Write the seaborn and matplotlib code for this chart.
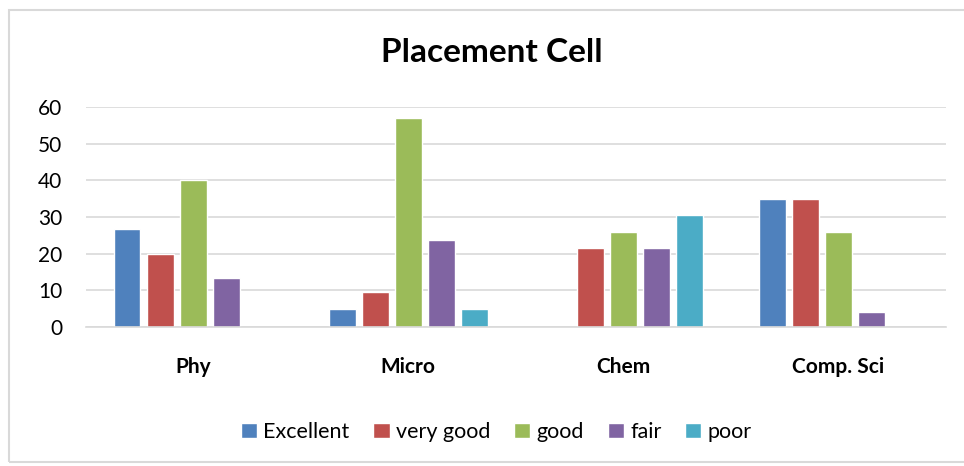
import numpy as np
import pandas as pd
import seaborn as sns
import matplotlib.pyplot as plt
from matplotlib.patches import Rectangle

# 데이터
subjects = ['Phy', 'Micro', 'Chem', 'Comp. Sci']
ratings = ['Excellent', 'very good', 'good', 'fair', 'poor']
excellent = [26.7, 4.7, np.nan, 34.8]
very_good = [20.0, 9.5, 21.6, 34.8]
good = [40.0, 57.0, 26.0, 26.0]
fair = [13.2, 23.8, 21.6, 4.1]
poor = [np.nan, 4.7, 30.4, np.nan]
colors = ['#4F81BD', '#C0504D', '#9BBB59', '#8064A2', '#4BACC6']

series = [excellent, very_good, good, fair, poor]
rows = []
for rating, vals in zip(ratings, series):
    for subj, v in zip(subjects, vals):
        rows.append({'subject': subj, 'rating': rating, 'value': v})
df = pd.DataFrame(rows)

sns.set_style('white')
plt.rcParams['font.family'] = ['Lato', 'DejaVu Sans']
plt.rcParams['text.color'] = 'black'
plt.rcParams['xtick.color'] = 'black'
plt.rcParams['ytick.color'] = 'black'

fig = plt.figure(figsize=(9.64, 4.66), dpi=100)
ax = fig.add_axes([0.089, 0.299, 0.8923, 0.471])

sns.barplot(data=df, x='subject', y='value', hue='rating', order=subjects,
            hue_order=ratings, palette=colors, width=0.77, gap=0.19,
            saturation=1, ax=ax)

ax.set_ylim(0, 60)
ax.set_yticks(range(0, 61, 10))
ax.yaxis.grid(True, color='#d9d9d9', linewidth=1.2)
ax.set_axisbelow(True)
for s in ['top', 'right', 'left']:
    ax.spines[s].set_visible(False)
ax.spines['bottom'].set_color('#d9d9d9')
ax.spines['bottom'].set_linewidth(1.2)
ax.tick_params(axis='y', length=0, pad=17, labelsize=15, labelcolor='black')
ax.tick_params(axis='x', length=0, pad=22, labelcolor='black')
for lbl in ax.get_xticklabels():
    lbl.set_fontweight('bold')
    lbl.set_fontsize(15)
ax.set_xlabel('')
ax.set_ylabel('')

fig.text(0.51, 1 - 52 / 466, 'Placement Cell', ha='center', va='center',
         fontsize=24, fontweight='bold', color='black')

handles, labels = ax.get_legend_handles_labels()
ax.get_legend().remove()
fig.legend(handles, labels, loc='center', bbox_to_anchor=(0.515, 1 - 432 / 466),
           ncol=5, frameon=False, fontsize=15.5, handlelength=0.75,
           handleheight=0.75, handletextpad=0.3, columnspacing=1.1,
           labelcolor='black')

# 바깥 테두리
fig.patches.append(Rectangle((9 / 964, 4 / 466), 1.0, 1 - 14 / 466,
                             transform=fig.transFigure, fill=False,
                             edgecolor='#d9d9d9', linewidth=1.5))

fig.savefig('out.png', dpi=100)
